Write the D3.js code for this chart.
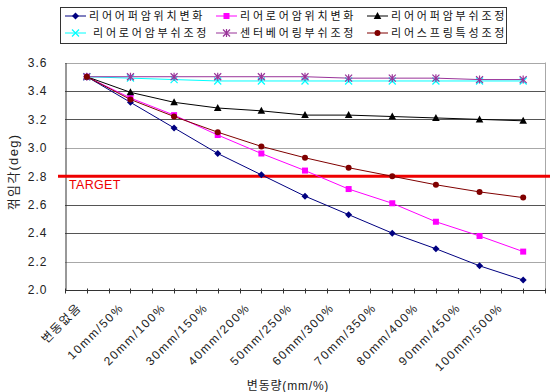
<!DOCTYPE html>
<html><head><meta charset="utf-8">
<script src="https://cdn.jsdelivr.net/npm/d3@7"></script>
<style>
html,body{margin:0;padding:0;background:#fff;}
text{font-family:"Liberation Sans","Noto Sans CJK KR",Arial,sans-serif;}
</style></head>
<body>
<svg id="c" width="550" height="392"></svg>
<script>
const categories = ["변동없음","10mm/50%","20mm/100%","30mm/150%","40mm/200%","50mm/250%","60mm/300%","70mm/350%","80mm/400%","90mm/450%","100mm/500%"];
const seriesNames = ["리어어퍼암위치변화","리어로어암위치변화","리어어퍼암부쉬조정","리어로어암부쉬조정","센터베어링부쉬조정","리어스프링특성조정"];
const s1 = [3.50,3.32,3.14,2.96,2.81,2.66,2.53,2.40,2.29,2.17,2.07];
const s2 = [3.50,3.35,3.23,3.09,2.96,2.84,2.71,2.61,2.48,2.38,2.27];
const s3 = [3.50,3.39,3.32,3.28,3.26,3.23,3.23,3.22,3.21,3.20,3.19];
const s4 = [3.50,3.49,3.48,3.47,3.47,3.47,3.47,3.47,3.47,3.47,3.47];
const s5 = [3.50,3.50,3.50,3.50,3.50,3.50,3.49,3.49,3.49,3.48,3.48];
const s6 = [3.50,3.34,3.22,3.11,3.01,2.93,2.86,2.80,2.74,2.69,2.65];
const yTicks = [2.0,2.2,2.4,2.6,2.8,3.0,3.2,3.4,3.6];
const targetValue = 2.8;
const targetLabel = "TARGET";
const yTitle = "꺾임각(deg)";
const xTitle = "변동량(mm/%)";

const colors = ["#000080","#ff00ff","#000000","#00ffff","#993399","#800000"];
const markers = ["diamond","square","triangle","x","star","circle"];
const series = [s1,s2,s3,s4,s5,s6];

const svg = d3.select("#c");
const L=65,R=545,T=62.5,B=290;
const x = d3.scaleBand().domain(categories).range([L,R]);
const bw = x.bandwidth();
const cx = c => x(c)+bw/2;
const y = d3.scaleLinear().domain([2.0,3.6]).range([B,T]);

// gridlines
const gridCol = v => (Math.abs(v-3.0)<1e-6||Math.abs(v-2.2)<1e-6||Math.abs(v-3.6)<1e-6) ? "#a8a8a8" : "#555";
svg.append("g").selectAll("line").data(yTicks.filter(v=>v>2.0)).join("line")
  .attr("x1",L).attr("x2",R).attr("y1",d=>Math.round(y(d))+0.5).attr("y2",d=>Math.round(y(d))+0.5)
  .attr("stroke",d=>gridCol(d)).attr("stroke-width",1);
// right border
svg.append("line").attr("x1",R+0.5).attr("x2",R+0.5).attr("y1",T).attr("y2",B).attr("stroke","#a8a8a8");

// y axis
const ya = svg.append("g").attr("transform",`translate(${L+0.5},0)`)
  .call(d3.axisLeft(y).tickValues(yTicks).tickFormat(d3.format(".1f")).tickSize(0).tickPadding(18));
ya.select(".domain").attr("stroke","#333");
ya.selectAll("text").attr("font-size",12).attr("fill","#222").attr("letter-spacing","1px");

// x axis with ticks at centers and boundaries
const xa = svg.append("g").attr("transform",`translate(0,${B+0.5})`);
xa.append("line").attr("x1",L).attr("x2",R).attr("stroke","#333");
const tickPos = categories.flatMap(c=>[x(c),cx(c)]).concat([R]);
xa.selectAll("line.t").data(tickPos).join("line").attr("class","t")
  .attr("x1",d=>Math.round(d)+0.5).attr("x2",d=>Math.round(d)+0.5).attr("y1",-2).attr("y2",3).attr("stroke","#333");
// x labels
const lx = d3.scalePoint().domain(categories).range([cx(categories[0])-11, cx(categories[categories.length-1])-26]);
svg.append("g").selectAll("text").data(categories).join("text")
  .attr("transform",d=>`translate(${lx(d)},${302}) rotate(-45)`)
  .attr("text-anchor","end").attr("dy","0.75em")
  .attr("font-size",12).attr("letter-spacing","1.6px").attr("fill","#222")
  .text(d=>d);

// target line
svg.append("line").attr("x1",58).attr("x2",550).attr("y1",y(targetValue)).attr("y2",y(targetValue))
  .attr("stroke","#ee0000").attr("stroke-width",3);
svg.append("text").attr("x",69).attr("y",y(targetValue)+13).attr("font-size",12.5).attr("fill","#ee0000")
  .attr("letter-spacing","0.3px").text(targetLabel);

// lines
const line = d3.line().x((d,i)=>cx(categories[i])).y(d=>y(d));
function drawMarker(g,type,col){
  if(type==="diamond") g.append("path").attr("d","M0,-3.5L3.5,0L0,3.5L-3.5,0Z").attr("fill",col);
  else if(type==="square") g.append("rect").attr("x",-3).attr("y",-3).attr("width",6).attr("height",6).attr("fill",col);
  else if(type==="triangle") g.append("path").attr("d","M0,-4L3.8,3L-3.8,3Z").attr("fill",col);
  else if(type==="circle") g.append("circle").attr("r",3).attr("fill",col);
  else if(type==="x") g.append("path").attr("d","M-3.5,-3.5L3.5,3.5M-3.5,3.5L3.5,-3.5").attr("stroke",col).attr("stroke-width",1.2);
  else if(type==="star") g.append("path").attr("d","M-3.5,-3.5L3.5,3.5M-3.5,3.5L3.5,-3.5M0,-4L0,4").attr("stroke",col).attr("stroke-width",1.2);
}
series.forEach((s,k)=>{
  svg.append("path").datum(s).attr("d",line).attr("fill","none").attr("stroke",colors[k]).attr("stroke-width",1);
  s.forEach((v,i)=>{
    const g = svg.append("g").attr("transform",`translate(${cx(categories[i])},${y(v)})`);
    drawMarker(g,markers[k],colors[k]);
  });
});

// titles
svg.append("text").attr("transform",`translate(18,172) rotate(-90)`).attr("text-anchor","middle")
  .attr("font-size",13).attr("letter-spacing","1.3px").attr("fill","#222").text(yTitle);
svg.append("text").attr("x",288).attr("y",390).attr("text-anchor","middle")
  .attr("font-size",12).attr("letter-spacing","0.8px").attr("fill","#222").text(xTitle);

// legend
const lg = svg.append("g");
lg.append("rect").attr("x",60.5).attr("y",7.5).attr("width",446).attr("height",36).attr("fill","#fff").attr("stroke","#333");
const colX=[65,216,367], rowY=[16,33];
seriesNames.forEach((n,k)=>{
  const lx0 = colX[k%3], ly = rowY[Math.floor(k/3)];
  const g = lg.append("g");
  g.append("line").attr("x1",lx0).attr("x2",lx0+21).attr("y1",ly).attr("y2",ly).attr("stroke",colors[k]);
  drawMarker(g.append("g").attr("transform",`translate(${lx0+10.5},${ly})`),markers[k],colors[k]);
  g.append("text").attr("x",lx0+24+(k===3?4:0)).attr("y",ly).attr("dy","0.36em").attr("font-size",11)
    .attr("letter-spacing","2.8px").attr("fill","#111").text(n);
});
</script>
</body></html>
